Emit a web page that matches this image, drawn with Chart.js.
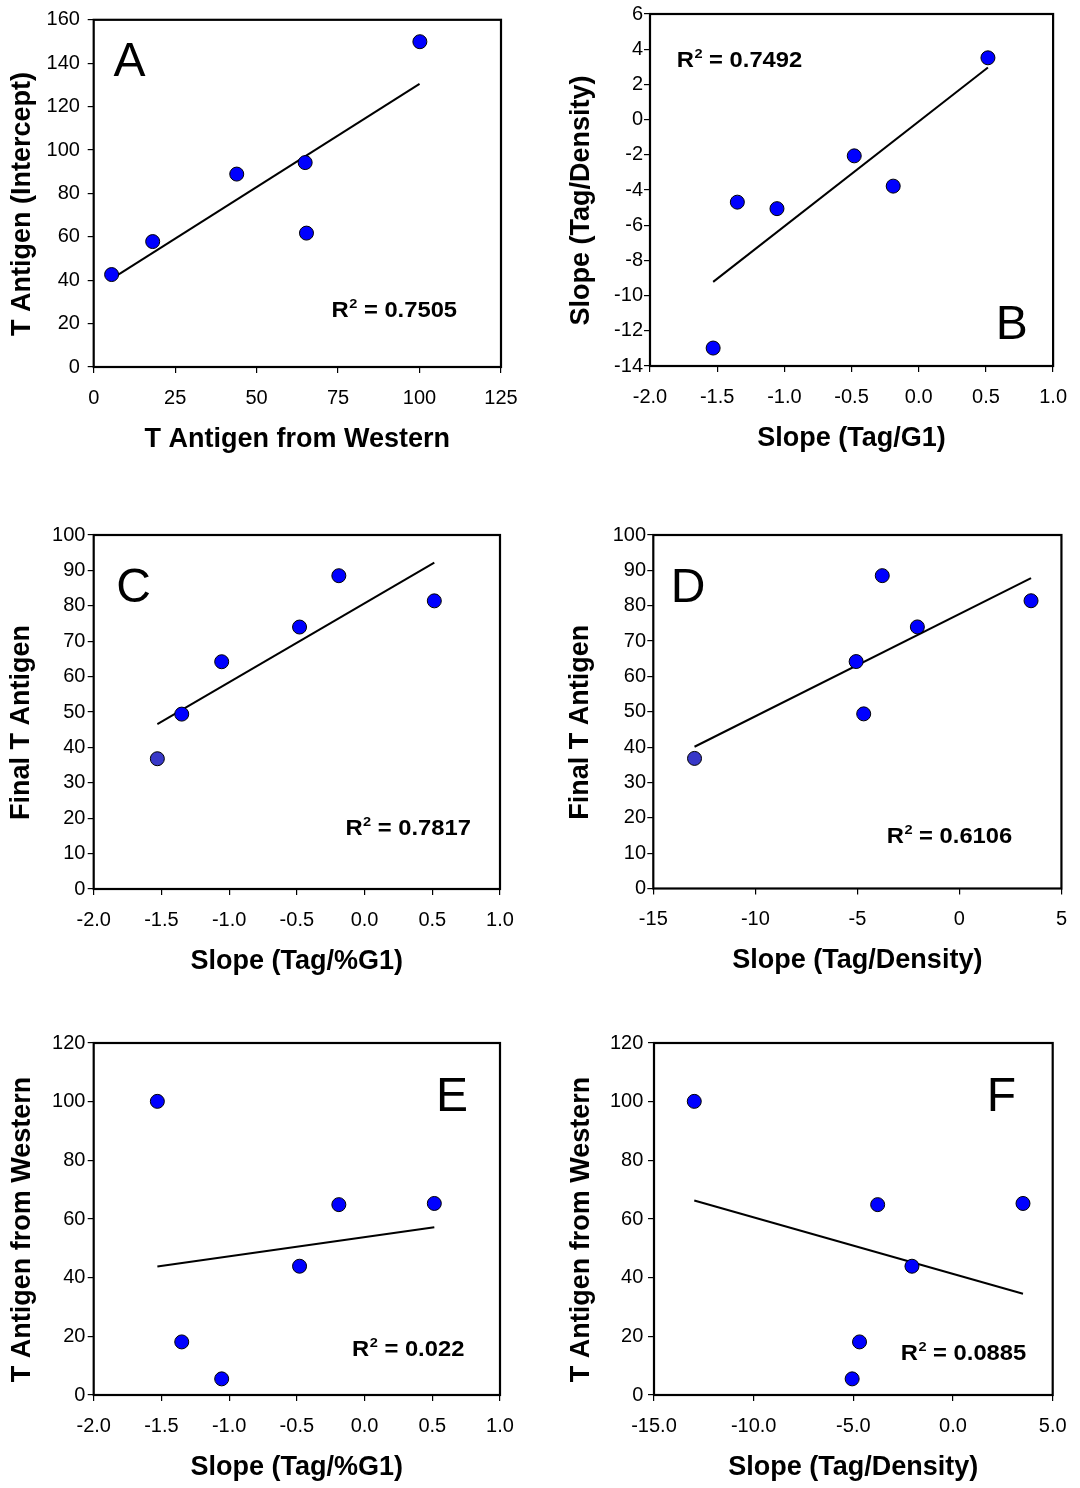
<!DOCTYPE html>
<html>
<head>
<meta charset="utf-8">
<script src="https://cdn.jsdelivr.net/npm/chart.js@4/dist/chart.umd.min.js"></script>
<style>
html,body{margin:0;padding:0;background:#fff;}
#wrap{position:relative;width:1080px;height:1488px;overflow:hidden;background:#fff;}
#wrap canvas{position:absolute;}
</style>
</head>
<body>
<div id="wrap"></div>
<script>
// ---------------- data ----------------
const slopeG1          = [-1.53, -1.35, -1.055, -0.48, -0.19, 0.515];
const slopeDensity     = [-12.98, -4.69, -5.06, -2.06, -3.78, 3.51];
const finalTAntigen    = [36.8, 49.4, 64.2, 74.0, 88.5, 81.4];
const westernTAntigen  = [100.1, 18.1, 5.5, 43.9, 64.9, 65.3];
const interceptTAntigen= [149.9, 57.8, 42.6, 88.9, 94.2, 61.7];

// regression line end points [x, y]
const trendA = [[5.5, 40.6], [100, 130.5]];
const trendB = [[-1.53, -9.22], [0.515, 2.96]];
const trendC = [[-1.53, 46.6], [0.515, 92.2]];
const trendD = [[-12.98, 40.1], [3.51, 87.8]];
const trendE = [[-1.53, 43.8], [0.515, 57.2]];
const trendF = [[-12.98, 66.3], [3.51, 34.5]];

// R squared labels
const r2Labels = ['0.7505', '0.7492', '0.7817', '0.6106', '0.022', '0.0885'];
const panelLetters = ['A', 'B', 'C', 'D', 'E', 'F'];

// tick values
const ticksWestern   = [0, 25, 50, 75, 100, 125];
const ticksIntercept = [0, 20, 40, 60, 80, 100, 120, 140, 160];
const ticksG1        = [-2.0, -1.5, -1.0, -0.5, 0.0, 0.5, 1.0];
const ticksDensityY  = [-14, -12, -10, -8, -6, -4, -2, 0, 2, 4, 6];
const ticksDensityX  = [-15, -10, -5, 0, 5];
const ticksFinal     = [0, 10, 20, 30, 40, 50, 60, 70, 80, 90, 100];
const ticksWesternY  = [0, 20, 40, 60, 80, 100, 120];

// ---------------- layout / styles ----------------
const FONT = '"Liberation Sans", Arial, Helvetica, sans-serif';
Chart.defaults.font.family = FONT;
const TITLE_SIZE = 27, TITLE_HALF = TITLE_SIZE * 1.2 / 2;
const TICK_SIZE = 20;
const X_AXIS_H = 72.5 + TITLE_HALF;
const BLUE = '#0000FF', ALT = '#3838C8';
const Y_TITLE_SHIFT = '\u2002\u00a0'; // trailing space: moves rotated title slightly down, as in the reference

const panels = [
  {cx:0,   cy:0,    cw:540, ch:480, area:{l:93.7, t:14,  r:501,  b:367},  yTitleX:23, yGap:13.8,
   xs:westernTAntigen, ys:interceptTAntigen, trend:trendA, xt:ticksWestern, yt:ticksIntercept, xDec:0, yDec:0,
   xTitle:'T Antigen from Western', yTitle:'T Antigen (Intercept)', alt:-1,
   letter:{x:129.5, y:76}, r2:{x:331.5, y:317.3}},
  {cx:540, cy:0,    cw:540, ch:480, area:{l:650, t:14, r:1058.3, b:366},  yTitleX:582, yGap:7,
   xs:slopeG1, ys:slopeDensity, trend:trendB, xt:ticksG1, yt:ticksDensityY, xDec:1, yDec:0,
   xTitle:'Slope (Tag/G1)', yTitle:'Slope (Tag/Density)', alt:-1,
   letter:{x:1011.7, y:339}, r2:{x:676.7, y:66.7}},
  {cx:0,   cy:500,  cw:540, ch:490, area:{l:93.7, t:535, r:500,  b:889},  yTitleX:21.5, yGap:8.3,
   xs:slopeG1, ys:finalTAntigen, trend:trendC, xt:ticksG1, yt:ticksFinal, xDec:1, yDec:0,
   xTitle:'Slope (Tag/%G1)', yTitle:'Final T Antigen', alt:0,
   letter:{x:133.5, y:601.7}, r2:{x:345.4, y:835}},
  {cx:540, cy:500,  cw:540, ch:490, area:{l:653.3, t:535, r:1061.7, b:888.5}, yTitleX:581, yGap:7.3,
   xs:slopeDensity, ys:finalTAntigen, trend:trendD, xt:ticksDensityX, yt:ticksFinal, xDec:0, yDec:0,
   xTitle:'Slope (Tag/Density)', yTitle:'Final T Antigen', alt:0,
   letter:{x:688, y:601.7}, r2:{x:886.7, y:842.7}},
  {cx:0,   cy:1008, cw:540, ch:480, area:{l:93.7, t:1043, r:500,  b:1395}, yTitleX:22.4, yGap:8.3,
   xs:slopeG1, ys:westernTAntigen, trend:trendE, xt:ticksG1, yt:ticksWesternY, xDec:1, yDec:0,
   xTitle:'Slope (Tag/%G1)', yTitle:'T Antigen from Western', alt:-1,
   letter:{x:452, y:1111}, r2:{x:352, y:1356.3}},
  {cx:540, cy:1008, cw:540, ch:480, area:{l:654, t:1043, r:1052.7, b:1395}, yTitleX:581.7, yGap:10.7,
   xs:slopeDensity, ys:westernTAntigen, trend:trendF, xt:ticksDensityX, yt:ticksWesternY, xDec:1, yDec:0,
   xTitle:'Slope (Tag/Density)', yTitle:'T Antigen from Western', alt:-1,
   letter:{x:1001.5, y:1111}, r2:{x:900.7, y:1359.7}}
];

const framePlugin = {
  id: 'frame',
  beforeDatasetsDraw(chart) {
    const {ctx, chartArea: a} = chart;
    ctx.save();
    ctx.strokeStyle = '#000';
    ctx.lineWidth = 2.2;
    ctx.strokeRect(a.left, a.top, a.right - a.left, a.bottom - a.top);
    ctx.restore();
  }
};

const textPlugin = {
  id: 'panelText',
  afterDraw(chart, args, o) {
    const ctx = chart.ctx;
    ctx.save();
    ctx.fillStyle = '#000';
    // panel letter
    ctx.font = '48px ' + FONT;
    ctx.textAlign = 'center';
    ctx.textBaseline = 'alphabetic';
    ctx.fillText(o.letter, o.lx - o.cx, o.ly - o.cy);
    // R^2 label
    ctx.translate(o.rx - o.cx, o.ry - o.cy);
    ctx.scale(1.08, 1);
    ctx.textAlign = 'left';
    ctx.font = 'bold 22px ' + FONT;
    ctx.fillText('R', 0, 0);
    let w = ctx.measureText('R').width + 0.5;
    ctx.font = 'bold 13.5px ' + FONT;
    ctx.fillText('2', w, -9);
    w += ctx.measureText('2').width;
    ctx.font = 'bold 22px ' + FONT;
    ctx.fillText(' = ' + o.r2, w, 0);
    ctx.restore();
  }
};

const wrap = document.getElementById('wrap');
panels.forEach((p, idx) => {
  const cv = document.createElement('canvas');
  cv.width = p.cw; cv.height = p.ch;
  cv.style.left = p.cx + 'px'; cv.style.top = p.cy + 'px';
  cv.style.width = p.cw + 'px'; cv.style.height = p.ch + 'px';
  wrap.appendChild(cv);

  const padLeft = p.yTitleX - p.cx - TITLE_HALF;
  const yWidth = p.area.l - p.cx - padLeft;
  const padTop = p.area.t - p.cy;
  const padRight = p.cx + p.cw - p.area.r;
  const padBottom = (p.cy + p.ch) - (p.area.b + X_AXIS_H);

  const colors = p.xs.map((_, i) => i === p.alt ? ALT : BLUE);
  const gridOpts = {display:true, drawOnChartArea:false, drawTicks:true, tickLength:6, color:'#000', lineWidth:1.2};

  new Chart(cv, {
    type: 'scatter',
    data: {
      datasets: [
        {
          data: p.xs.map((x, i) => ({x: x, y: p.ys[i]})),
          backgroundColor: colors, borderColor: '#000', borderWidth: 1,
          pointRadius: 7, pointHoverRadius: 7
        },
        {
          data: p.trend.map(q => ({x: q[0], y: q[1]})),
          showLine: true, borderColor: '#000', borderWidth: 2,
          pointRadius: 0, pointHoverRadius: 0, fill: false
        }
      ]
    },
    options: {
      responsive: false, animation: false, devicePixelRatio: 1, events: [],
      layout: {padding: {left: padLeft, top: padTop, right: padRight, bottom: padBottom}},
      plugins: {
        legend: {display: false}, tooltip: {enabled: false},
        panelText: {cx: p.cx, cy: p.cy, letter: panelLetters[idx], lx: p.letter.x, ly: p.letter.y,
                    r2: r2Labels[idx], rx: p.r2.x, ry: p.r2.y}
      },
      scales: {
        x: {
          type: 'linear', position: 'bottom',
          min: p.xt[0], max: p.xt[p.xt.length - 1],
          afterBuildTicks: s => { s.ticks = p.xt.map(v => ({value: v})); },
          afterFit: s => { s.height = X_AXIS_H; },
          grid: gridOpts, border: {display: false},
          ticks: {font: {size: TICK_SIZE}, color: '#000', padding: 13, autoSkip: false, maxRotation: 0, minRotation: 0,
                  callback: v => Number(v).toFixed(p.xDec)},
          title: {display: true, text: p.xTitle, color: '#000', padding: 0,
                  font: {size: TITLE_SIZE, weight: 'bold'}}
        },
        y: {
          type: 'linear', position: 'left',
          min: p.yt[0], max: p.yt[p.yt.length - 1],
          afterBuildTicks: s => { s.ticks = p.yt.map(v => ({value: v})); },
          afterFit: s => { s.width = yWidth; },
          grid: gridOpts, border: {display: false},
          ticks: {font: {size: TICK_SIZE}, color: '#000', padding: p.yGap - 6, autoSkip: false,
                  callback: v => Number(v).toFixed(p.yDec)},
          title: {display: true, text: p.yTitle + Y_TITLE_SHIFT, color: '#000', padding: 0,
                  font: {size: TITLE_SIZE, weight: 'bold'}}
        }
      }
    },
    plugins: [framePlugin, textPlugin]
  });
});
</script>
</body>
</html>
